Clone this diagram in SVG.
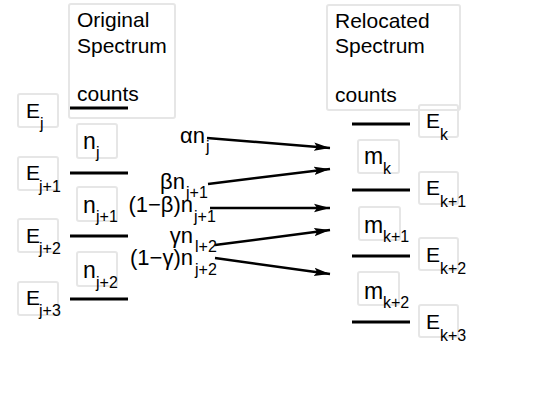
<svg xmlns="http://www.w3.org/2000/svg" width="545" height="418" viewBox="0 0 545 418">
<defs>
<style>
text{font-family:"Liberation Sans",Arial,sans-serif;fill:#000}
.t{font-size:21px}
.e{font-size:21px}
.n{font-size:23px}
.l{font-size:22px}
.s{font-size:16px}
.box{fill:none;stroke:#e6e6e6;stroke-width:2}
.lvl{stroke:#000;stroke-width:3}
.arr{stroke:#000;stroke-width:2.5;fill:none;marker-end:url(#ah)}
</style>
<marker id="ah" markerUnits="userSpaceOnUse" markerWidth="17" markerHeight="10" refX="16" refY="5" orient="auto">
<path d="M0,0.8 L16,5 L0,9.2 L3,5 Z" fill="#000"/>
</marker>
</defs>
<rect width="545" height="418" fill="#fff"/>

<g id="original-spectrum">
<rect class="box" x="69" y="4" width="106" height="114" rx="2"/>
<text class="t" x="77" y="27">Original</text>
<text class="t" x="77" y="53">Spectrum</text>
<text class="t" x="77" y="101">counts</text>
</g>
<g id="relocated-spectrum">
<rect class="box" x="327" y="5" width="133" height="105" rx="2"/>
<text class="t" x="335" y="28">Relocated</text>
<text class="t" x="335" y="53">Spectrum</text>
<text class="t" x="335" y="102">counts</text>
</g>

<g id="left-levels">
<line class="lvl" x1="70" y1="108" x2="128" y2="108"/>
<line class="lvl" x1="70" y1="173" x2="128" y2="173"/>
<line class="lvl" x1="70" y1="236" x2="128" y2="236"/>
<line class="lvl" x1="70" y1="299" x2="128" y2="299"/>
</g>
<g id="right-levels">
<line class="lvl" x1="352" y1="124" x2="410" y2="124"/>
<line class="lvl" x1="352" y1="190" x2="410" y2="190"/>
<line class="lvl" x1="352" y1="256" x2="410" y2="256"/>
<line class="lvl" x1="352" y1="322" x2="410" y2="322"/>
</g>

<g id="Ej"><rect class="box" x="18" y="94" width="40" height="33" rx="2"/><text class="e" x="26" y="118">E</text><text class="s" x="40" y="129">j</text></g>
<g id="Ej1"><rect class="box" x="18" y="157" width="40" height="33" rx="2"/><text class="e" x="26" y="180">E</text><text class="s" x="39" y="192">j+1</text></g>
<g id="Ej2"><rect class="box" x="18" y="219" width="40" height="33" rx="2"/><text class="e" x="26" y="243">E</text><text class="s" x="39" y="254">j+2</text></g>
<g id="Ej3"><rect class="box" x="18" y="282" width="40" height="33" rx="2"/><text class="e" x="26" y="305">E</text><text class="s" x="39" y="316">j+3</text></g>

<g id="nj"><rect class="box" x="77" y="124" width="40" height="34" rx="2"/><text class="n" x="83" y="149">n</text><text class="s" x="96" y="158">j</text></g>
<g id="nj1"><rect class="box" x="77" y="187" width="40" height="34" rx="2"/><text class="n" x="83" y="213">n</text><text class="s" x="96" y="222">j+1</text></g>
<g id="nj2"><rect class="box" x="77" y="252" width="40" height="34" rx="2"/><text class="n" x="83" y="278">n</text><text class="s" x="96" y="288">j+2</text></g>

<g id="Ek"><rect class="box" x="419" y="105" width="39" height="32" rx="2"/><text class="e" x="426" y="128">E</text><text class="s" x="440" y="140">k</text></g>
<g id="Ek1"><rect class="box" x="419" y="172" width="39" height="32" rx="2"/><text class="e" x="426" y="195">E</text><text class="s" x="440" y="207">k+1</text></g>
<g id="Ek2"><rect class="box" x="419" y="238" width="39" height="32" rx="2"/><text class="e" x="426" y="262">E</text><text class="s" x="440" y="274">k+2</text></g>
<g id="Ek3"><rect class="box" x="419" y="305" width="39" height="32" rx="2"/><text class="e" x="426" y="329">E</text><text class="s" x="440" y="341">k+3</text></g>

<g id="mk"><rect class="box" x="358" y="140" width="41" height="33" rx="2"/><text class="n" x="364" y="164">m</text><text class="s" x="383" y="174">k</text></g>
<g id="mk1"><rect class="box" x="359" y="207" width="41" height="33" rx="2"/><text class="n" x="364" y="233">m</text><text class="s" x="383" y="242">k+1</text></g>
<g id="mk2"><rect class="box" x="358" y="272" width="41" height="33" rx="2"/><text class="n" x="364" y="299">m</text><text class="s" x="383" y="308">k+2</text></g>

<g id="labels">
<text class="l" x="205" y="143" text-anchor="end">αn</text><text class="s" x="206" y="152">j</text>
<text class="l" x="185" y="189" text-anchor="end">βn</text><text class="s" x="186" y="198">j+1</text>
<text class="l" x="193" y="212" text-anchor="end">(1−β)n</text><text class="s" x="194" y="222">j+1</text>
<text class="l" x="193" y="243" text-anchor="end">γn</text><text class="s" x="195" y="252">l+2</text>
<text class="l" x="193" y="265" text-anchor="end">(1−γ)n</text><text class="s" x="195" y="275">j+2</text>
</g>

<g id="connectors">
<line class="arr" x1="207" y1="138" x2="330" y2="148"/>
<line class="arr" x1="208" y1="184" x2="330" y2="169"/>
<line class="arr" x1="210" y1="208" x2="330" y2="208"/>
<line class="arr" x1="215" y1="245" x2="330" y2="230"/>
<line class="arr" x1="215" y1="258" x2="330" y2="274"/>
</g>
</svg>
